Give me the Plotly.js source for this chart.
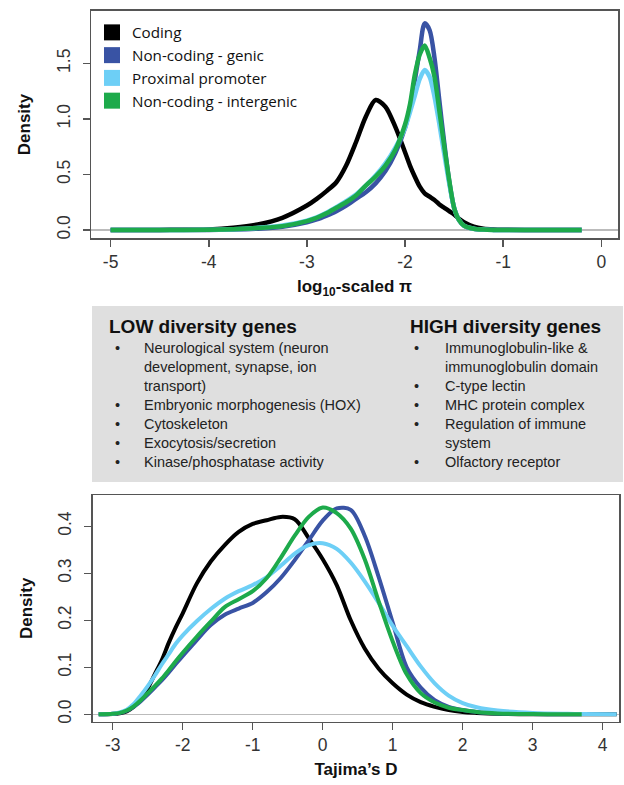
<!DOCTYPE html>
<html>
<head>
<meta charset="utf-8">
<script src="https://cdn.plot.ly/plotly-3.0.1.min.js"></script>
<style>html,body{margin:0;padding:0;background:#fff;}#chart{width:624px;height:785px;}</style>
</head>
<body>
<div id="chart"></div>
<script>
// ---------- Data ----------
const seriesNames = ["Coding", "Non-coding - genic", "Proximal promoter", "Non-coding - intergenic"];
const seriesColors = ["#000000", "#3953A4", "#6DCFF6", "#1DAA4B"];

// Top panel: log10-scaled pi densities
const xPi = [-5, -4.5, -4, -3.75, -3.5, -3.25, -3, -2.9, -2.8, -2.7, -2.6, -2.5, -2.4, -2.3, -2.2, -2.1, -2.0, -1.95, -1.9, -1.85, -1.8, -1.75, -1.7, -1.65, -1.6, -1.55, -1.5, -1.45, -1.4, -1.3, -1.2, -1.1, -1.0, -0.6, -0.2];
const piCoding = [0, 0.001, 0.005, 0.02, 0.05, 0.11, 0.22, 0.28, 0.35, 0.43, 0.58, 0.79, 1.02, 1.17, 1.11, 0.93, 0.70, 0.58, 0.48, 0.39, 0.33, 0.30, 0.27, 0.23, 0.20, 0.17, 0.14, 0.10, 0.07, 0.03, 0.012, 0.005, 0.002, 0, 0];
const piGenic = [0, 0, 0.001, 0.004, 0.012, 0.03, 0.07, 0.095, 0.13, 0.17, 0.22, 0.28, 0.34, 0.42, 0.53, 0.69, 0.92, 1.10, 1.35, 1.62, 1.86, 1.80, 1.55, 1.16, 0.78, 0.44, 0.20, 0.09, 0.04, 0.01, 0.003, 0.001, 0, 0, 0];
const piPromoter = [0, 0, 0.002, 0.007, 0.02, 0.04, 0.085, 0.115, 0.155, 0.205, 0.26, 0.32, 0.40, 0.49, 0.60, 0.74, 0.92, 1.06, 1.21, 1.36, 1.44, 1.38, 1.20, 0.95, 0.68, 0.42, 0.20, 0.09, 0.04, 0.012, 0.004, 0.001, 0, 0, 0];
const piIntergenic = [0, 0, 0.002, 0.006, 0.018, 0.035, 0.08, 0.11, 0.15, 0.20, 0.25, 0.31, 0.40, 0.48, 0.58, 0.72, 0.95, 1.13, 1.40, 1.58, 1.66, 1.55, 1.38, 1.07, 0.75, 0.45, 0.20, 0.09, 0.04, 0.012, 0.004, 0.001, 0, 0, 0];

// Bottom panel: Tajima's D densities
const xD = [-3.2, -3.0, -2.9, -2.8, -2.7, -2.6, -2.5, -2.4, -2.3, -2.2, -2.1, -2.0, -1.8, -1.6, -1.4, -1.2, -1.0, -0.8, -0.6, -0.4, -0.2, 0, 0.2, 0.4, 0.6, 0.8, 1.0, 1.2, 1.4, 1.6, 1.8, 2.0, 2.2, 2.5, 3.0, 3.5, 3.7, 4.2];
const dCoding = [0, 0.0005, 0.002, 0.006, 0.016, 0.032, 0.055, 0.085, 0.115, 0.152, 0.185, 0.215, 0.278, 0.325, 0.36, 0.388, 0.405, 0.413, 0.42, 0.415, 0.375, 0.33, 0.275, 0.20, 0.14, 0.097, 0.066, 0.042, 0.026, 0.016, 0.009, 0.005, 0.003, 0.001, 0, 0, 0, 0];
const dGenic = [0, 0.001, 0.003, 0.008, 0.016, 0.028, 0.042, 0.057, 0.072, 0.089, 0.107, 0.124, 0.158, 0.19, 0.212, 0.225, 0.237, 0.26, 0.29, 0.328, 0.37, 0.412, 0.438, 0.435, 0.38, 0.292, 0.195, 0.10, 0.057, 0.03, 0.016, 0.009, 0.005, 0.002, 0.0005, 0, 0, null];
const dPromoter = [0, 0.001, 0.004, 0.01, 0.022, 0.04, 0.06, 0.082, 0.106, 0.128, 0.15, 0.168, 0.198, 0.224, 0.246, 0.262, 0.275, 0.292, 0.316, 0.342, 0.36, 0.364, 0.352, 0.323, 0.283, 0.237, 0.188, 0.145, 0.102, 0.066, 0.04, 0.024, 0.015, 0.008, 0.003, 0.001, 0.0005, 0];
const dIntergenic = [0, 0.001, 0.003, 0.008, 0.017, 0.03, 0.045, 0.06, 0.076, 0.094, 0.113, 0.131, 0.165, 0.197, 0.228, 0.245, 0.262, 0.29, 0.333, 0.38, 0.42, 0.44, 0.428, 0.395, 0.33, 0.24, 0.155, 0.085, 0.045, 0.025, 0.014, 0.009, 0.005, 0.002, 0.0005, 0, 0, null];

const piTicks = [-5, -4, -3, -2, -1, 0];
const piYTicks = [0, 0.5, 1.0, 1.5];
const piYTickText = ["0.0", "0.5", "1.0", "1.5"];
const dTicks = [-3, -2, -1, 0, 1, 2, 3, 4];
const dYTicks = [0, 0.1, 0.2, 0.3, 0.4];
const dYTickText = ["0.0", "0.1", "0.2", "0.3", "0.4"];

const lowTitle = "LOW diversity genes";
const lowItems = ["Neurological system (neuron", "development, synapse, ion", "transport)", "Embryonic morphogenesis (HOX)", "Cytoskeleton", "Exocytosis/secretion", "Kinase/phosphatase activity"];
const lowBullets = [true, false, false, true, true, true, true];
const highTitle = "HIGH diversity genes";
const highItems = ["Immunoglobulin-like &", "immunoglobulin domain", "C-type lectin", "MHC protein complex", "Regulation of immune", "system", "Olfactory receptor"];
const highBullets = [true, false, true, true, true, false, true];

// ---------- Build ----------
const W = 624, H = 785;
const piSeries = [piCoding, piGenic, piPromoter, piIntergenic];
const dSeries = [dCoding, dGenic, dPromoter, dIntergenic];
const traces = [];
piSeries.forEach((ys, i) => traces.push({
  x: xPi, y: ys, type: "scatter", mode: "lines", xaxis: "x", yaxis: "y",
  line: {color: seriesColors[i], width: 4.5, shape: "spline", smoothing: 0.8},
  showlegend: false, hoverinfo: "skip"
}));
dSeries.forEach((ys, i) => traces.push({
  x: xD, y: ys, type: "scatter", mode: "lines", xaxis: "x2", yaxis: "y2",
  line: {color: seriesColors[i], width: 4, shape: "spline", smoothing: 0.9},
  connectgaps: false, showlegend: false, hoverinfo: "skip"
}));
seriesNames.forEach((n, i) => traces.push({
  x: [null], y: [null], type: "scatter", mode: "markers", name: n, xaxis: "x", yaxis: "y",
  marker: {symbol: "square", size: 16, color: seriesColors[i]}, showlegend: true
}));

const tickFont = {family: "Liberation Sans, Arial, sans-serif", size: 17.5, color: "#333"};
const titleFont = {family: "Liberation Sans, Arial, sans-serif", size: 17, color: "#111", weight: "bold"};
const axisCommon = {
  showline: true, mirror: true, linecolor: "#555", linewidth: 1.5,
  ticks: "outside", ticklen: 7, tickwidth: 1.5, tickcolor: "#555",
  showgrid: false, tickfont: tickFont, automargin: false
};

const annotations = [];
const lineH = 19;
const topY = 326;
function px2paperY(py) { return 1 - py / H; }
annotations.push({xref: "paper", yref: "paper", x: 107 / W, y: px2paperY(topY), text: "<b>" + lowTitle + "</b>", showarrow: false, xanchor: "left", yanchor: "middle", font: {family: "Liberation Sans, Arial, sans-serif", size: 19, color: "#111"}});
annotations.push({xref: "paper", yref: "paper", x: 408 / W, y: px2paperY(topY), text: "<b>" + highTitle + "</b>", showarrow: false, xanchor: "left", yanchor: "middle", font: {family: "Liberation Sans, Arial, sans-serif", size: 19, color: "#111"}});
const itemFont = {family: "Liberation Sans, Arial, sans-serif", size: 14.5, color: "#222"};
lowItems.forEach((t, i) => {
  const y = px2paperY(348 + i * lineH);
  annotations.push({xref: "paper", yref: "paper", x: 142 / W, y: y, text: t, showarrow: false, xanchor: "left", yanchor: "middle", font: itemFont});
  if (lowBullets[i]) annotations.push({xref: "paper", yref: "paper", x: 117 / W, y: y, text: "•", showarrow: false, xanchor: "center", yanchor: "middle", font: itemFont});
});
highItems.forEach((t, i) => {
  const y = px2paperY(348 + i * lineH);
  annotations.push({xref: "paper", yref: "paper", x: 443 / W, y: y, text: t, showarrow: false, xanchor: "left", yanchor: "middle", font: itemFont});
  if (highBullets[i]) annotations.push({xref: "paper", yref: "paper", x: 416 / W, y: y, text: "•", showarrow: false, xanchor: "center", yanchor: "middle", font: itemFont});
});

const layout = {
  width: W, height: H,
  margin: {l: 0, r: 0, t: 0, b: 0},
  paper_bgcolor: "#fff", plot_bgcolor: "#fff",
  showlegend: true,
  legend: {x: 92 / W, y: 1 - 16 / H, xanchor: "left", yanchor: "top", bgcolor: "rgba(0,0,0,0)",
    font: {family: "Open Sans, Noto Sans, sans-serif", size: 15.2, color: "#111"}, tracegroupgap: 0, itemwidth: 30},
  xaxis: Object.assign({}, axisCommon, {domain: [91 / W, 618 / W], range: [-5.2, 0.17], tickvals: piTicks, ticktext: piTicks.map(String), zeroline: false,
    anchor: "y", title: {text: "<b>log<sub>10</sub>-scaled π</b>", font: titleFont, standoff: 9}}),
  yaxis: Object.assign({}, axisCommon, {domain: [1 - 238.3 / H, 1 - 10.7 / H], range: [-0.0747, 1.974], tickvals: piYTicks, ticktext: piYTickText, tickangle: -90,
    ticklabelstandoff: 6, zeroline: true, zerolinecolor: "#bbb", zerolinewidth: 1.5, anchor: "x", title: {text: "<b>Density</b>", font: titleFont, standoff: 18}}),
  xaxis2: Object.assign({}, axisCommon, {domain: [92.7 / W, 619.3 / W], range: [-3.286, 4.237], tickvals: dTicks, ticktext: dTicks.map(String), zeroline: false,
    anchor: "y2", title: {text: "<b>Tajima’s D</b>", font: titleFont, standoff: 9}}),
  yaxis2: Object.assign({}, axisCommon, {domain: [1 - 721.7 / H, 1 - 495 / H], range: [-0.0157, 0.4666], tickvals: dYTicks, ticktext: dYTickText, tickangle: -90,
    ticklabelstandoff: 6, zeroline: true, zerolinecolor: "#bbb", zerolinewidth: 1.5, anchor: "x2", title: {text: "<b>Density</b>", font: titleFont, standoff: 18}}),
  shapes: [{type: "rect", xref: "paper", yref: "paper", x0: 92 / W, x1: 623 / W, y0: 1 - 482 / H, y1: 1 - 306 / H,
    fillcolor: "#dfdfdf", line: {width: 0}, layer: "below"}],
  annotations: annotations
};

Plotly.newPlot("chart", traces, layout, {staticPlot: true, displayModeBar: false});
</script>
</body>
</html>
